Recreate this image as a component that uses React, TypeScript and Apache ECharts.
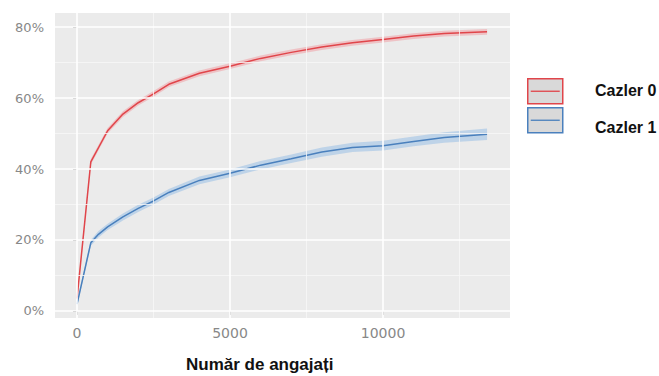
import React, { useEffect, useRef } from "react";
import * as echarts from "echarts";

const xs = [0, 450, 700, 1000, 1500, 2000, 2500, 3000, 4000, 5000, 6000, 7000, 8000, 9000, 10000, 11000, 12000, 13400];
const cazler0 = [3.5, 42, 46, 50.8, 55.5, 58.7, 61.2, 63.9, 67, 69, 71.2, 72.9, 74.4, 75.6, 76.5, 77.5, 78.2, 78.7];
const cazler1 = [1.9, 19.2, 21.6, 23.7, 26.5, 28.9, 31, 33.4, 36.8, 38.8, 41.1, 42.9, 44.8, 46.1, 46.6, 47.8, 48.9, 49.8];
const band0 = [0.8, 0.8, 0.8, 0.8, 0.8, 0.8, 0.8, 0.8, 0.8, 0.8, 0.8, 0.8, 0.8, 0.8, 0.8, 0.8, 0.8, 0.8];
const band1 = [0.6, 0.8, 0.9, 0.9, 1.0, 1.0, 1.0, 1.0, 1.1, 1.1, 1.2, 1.2, 1.3, 1.3, 1.4, 1.4, 1.5, 1.6];
const yMajor = [0, 20, 40, 60, 80];
const yMinor = [10, 30, 50, 70];
const xMajor = [0, 5000, 10000];
const xMinor = [2500, 7500, 12500];
const seriesNames = ["Cazler 0", "Cazler 1"];
const xTitle = "Număr de angajați";

const RED = "#E0454A";
const BLUE = "#4A80BD";
const BOLD = "bold 16px 'Liberation Sans', Arial, sans-serif";

export default function App() {
  const ref = useRef<HTMLDivElement>(null);
  useEffect(() => {
    if (!ref.current) return;
    const chart = echarts.init(ref.current, null, { renderer: "svg" });
    const makeSeries = (name: string, vals: number[], bw: number[], color: string, band: string) => [
      {
        name: name + "_band",
        type: "custom",
        data: xs.map((x, i) => [x, vals[i] - bw[i], vals[i] + bw[i]]),
        encode: { x: 0, y: [1, 2] },
        silent: true,
        z: 3,
        renderItem: (params: any, api: any) => {
          if (params.dataIndex !== 0) return null;
          const lower = xs.map((x, i) => api.coord([x, vals[i] - bw[i]]));
          const upper = xs.map((x, i) => api.coord([x, vals[i] + bw[i]])).reverse();
          return {
            type: "polygon",
            shape: { points: [...lower, ...upper] },
            style: { fill: band },
          };
        },
      },
      {
        name,
        type: "line",
        data: xs.map((x, i) => [x, vals[i]]),
        symbol: "none",
        lineStyle: { color, width: 1.5 },
        z: 4,
      },
    ];
    chart.setOption({
      animation: false,
      grid: {
        left: 55,
        top: 13,
        right: 149,
        bottom: 58,
        show: true,
        backgroundColor: "#EBEBEB",
        borderWidth: 0,
      },
      xAxis: {
        type: "value",
        min: -720,
        max: 14150,
        splitLine: { show: false },
        axisLine: { show: false },
        axisTick: { show: true, customValues: xMajor, length: 4, lineStyle: { color: "#666" } },
        axisLabel: {
          customValues: xMajor,
          formatter: (v: number) => String(v),
          color: "#888",
          fontSize: 14,
          fontFamily: "DejaVu Sans",
          margin: 8,
        },
      },
      yAxis: {
        type: "value",
        min: -2,
        max: 84,
        splitLine: { show: false },
        axisLine: { show: false },
        axisTick: { show: true, customValues: yMajor, length: 4, lineStyle: { color: "#666" } },
        axisLabel: {
          customValues: yMajor,
          formatter: (v: number) => v + "%",
          color: "#888",
          fontSize: 13,
          fontFamily: "DejaVu Sans",
          margin: 11,
        },
      },
      graphic: [
        {
          type: "text",
          left: 186,
          top: 356,
          style: { text: xTitle, font: "bold 17px 'Liberation Sans', Arial, sans-serif", fill: "#111" },
        },
        {
          type: "group",
          left: 527,
          top: 78,
          children: [
            { type: "rect", shape: { x: 0, y: 0, width: 35, height: 25 }, style: { fill: "#D9D9D9", stroke: RED, lineWidth: 1.5 } },
            { type: "line", shape: { x1: 3, y1: 12.5, x2: 32, y2: 12.5 }, style: { stroke: RED, lineWidth: 1.3 } },
            { type: "rect", shape: { x: 0, y: 29, width: 35, height: 25 }, style: { fill: "#D9D9D9", stroke: BLUE, lineWidth: 1.5 } },
            { type: "line", shape: { x1: 3, y1: 41.5, x2: 32, y2: 41.5 }, style: { stroke: BLUE, lineWidth: 1.3 } },
          ],
        },
        {
          type: "text",
          left: 595,
          top: 82,
          style: { text: seriesNames[0], font: BOLD, fill: "#111" },
        },
        {
          type: "text",
          left: 595,
          top: 119,
          style: { text: seriesNames[1], font: BOLD, fill: "#111" },
        },
      ],
      series: [
        {
          name: "grid",
          type: "line",
          data: [[0, 0]],
          symbol: "none",
          lineStyle: { opacity: 0 },
          silent: true,
          z: 1,
          markLine: {
            silent: true,
            symbol: "none",
            label: { show: false },
            animation: false,
            data: [
              ...yMinor.map((v) => ({ yAxis: v, lineStyle: { color: "#F7F7F7", width: 0.8, type: "solid" } })),
              ...xMinor.map((v) => ({ xAxis: v, lineStyle: { color: "#F7F7F7", width: 0.8, type: "solid" } })),
              ...yMajor.map((v) => ({ yAxis: v, lineStyle: { color: "#FFFFFF", width: 1.6, type: "solid" } })),
              ...xMajor.map((v) => ({ xAxis: v, lineStyle: { color: "#FFFFFF", width: 1.6, type: "solid" } })),
            ],
          },
        },
        ...makeSeries(seriesNames[0], cazler0, band0, RED, "rgba(240,160,165,0.55)"),
        ...makeSeries(seriesNames[1], cazler1, band1, BLUE, "rgba(160,195,230,0.6)"),
      ],
    });
    return () => chart.dispose();
  }, []);
  return <div ref={ref} style={{ width: 659, height: 376, position: "absolute", left: 0, top: 0 }} />;
}
